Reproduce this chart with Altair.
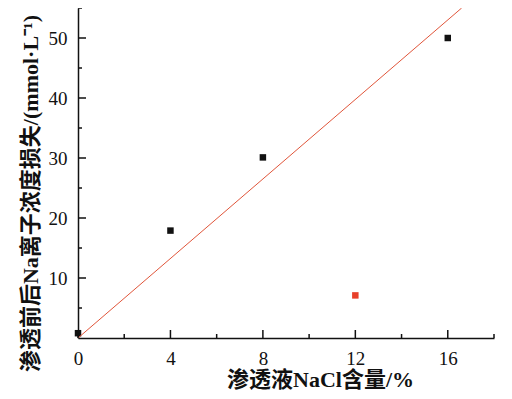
import altair as alt
import pandas as pd

# data
x_vals = [0, 4, 8, 12, 16]
y_vals = [0.8, 17.9, 30.1, 7.1, 50.0]
groups = ["a", "a", "a", "b", "a"]

line_x = [0, 16.6]
line_y = [0, 55]

x_major = [0, 4, 8, 12, 16]
x_minor = [2, 6, 10, 14, 18]
y_major = [10, 20, 30, 40, 50]
y_minor = [5, 15, 25, 35, 45, 55]

W, H = 416, 330
FONT = "Liberation Serif, Noto Sans CJK SC"

pts = pd.DataFrame({"x": x_vals, "y": y_vals, "g": groups})
ln = pd.DataFrame({"x": line_x, "y": line_y})

xs = alt.Scale(domain=[0, 18], nice=False, zero=False)
ys = alt.Scale(domain=[0, 55], nice=False, zero=False)

xaxis = alt.Axis(
    values=x_major, tickSize=0, grid=False, labelFontSize=19, labelFont=FONT,
    labelPadding=11, labelColor="#111", domainColor="#111", domainWidth=1.5,
    labelFlush=False,
    title="渗透液NaCl含量/%", titleFont=FONT, titleFontSize=22, titleFontWeight="bold",
    titleColor="#111", titleX=242, titleY=41, titleBaseline="middle")
yaxis = alt.Axis(
    values=y_major, tickSize=0, grid=False, labelFontSize=19, labelFont=FONT,
    labelPadding=11, labelColor="#111", domainColor="#111", domainWidth=1.5,
    labelFlush=False,
    title="渗透前后Na离子浓度损失/(mmol·L⁻¹)", titleFont=FONT, titleFontSize=22,
    titleFontWeight="bold", titleColor="#111", titleX=-48, titleY=185,
    titleBaseline="middle", titleAngle=-90)


def X():
    return alt.X("x:Q", scale=xs, axis=xaxis)


def Y():
    return alt.Y("y:Q", scale=ys, axis=yaxis)


line = alt.Chart(ln).mark_line(color="#e0553a", strokeWidth=1).encode(x=X(), y=Y())

points = alt.Chart(pts).mark_point(shape="square", filled=True, size=42, opacity=1).encode(
    x=X(), y=Y(),
    color=alt.Color("g:N", scale=alt.Scale(domain=["a", "b"], range=["#111111", "#e8402a"]), legend=None))

xmaj = alt.Chart(pd.DataFrame({"x": x_major})).mark_rule(color="#111", strokeWidth=1.5).encode(
    x=X(), y=alt.value(H), y2=alt.value(H - 8))
xmin = alt.Chart(pd.DataFrame({"x": x_minor})).mark_rule(color="#111", strokeWidth=1.5).encode(
    x=X(), y=alt.value(H), y2=alt.value(H - 4))
ymaj = alt.Chart(pd.DataFrame({"y": y_major})).mark_rule(color="#111", strokeWidth=1.5).encode(
    y=Y(), x=alt.value(0), x2=alt.value(8))
ymin = alt.Chart(pd.DataFrame({"y": y_minor})).mark_rule(color="#111", strokeWidth=1.5).encode(
    y=Y(), x=alt.value(0), x2=alt.value(4))

chart = alt.layer(points, line, xmaj, xmin, ymaj, ymin).properties(
    width=W, height=H,
    background="white",
    autosize=alt.AutoSizeParams(type="none"),
    padding={"left": 70, "top": 0, "right": 10, "bottom": 53},
).configure_view(stroke=None)

chart.save("out.html", embed_options={"renderer": "svg", "actions": False})
